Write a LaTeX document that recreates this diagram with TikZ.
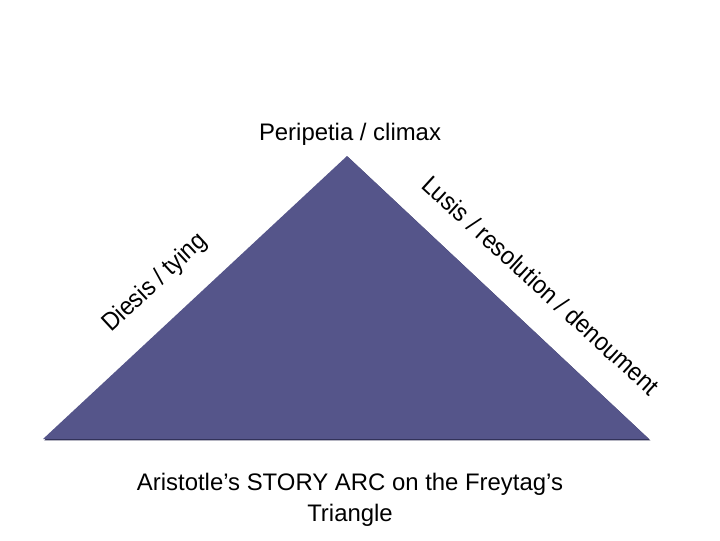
\documentclass[tikz,border=0pt]{standalone}
\usepackage{fontspec}
\setmainfont{Liberation Sans}
\newfontfamily\edgefont[FakeStretch=0.92]{Liberation Sans}
\definecolor{arcfill}{RGB}{85,85,138}
\definecolor{arcshadow}{RGB}{45,45,82}

\begin{document}
\begin{tikzpicture}[
    x=0.025cm, y=-0.025cm,
    title/.style={font=\fontsize{17}{22}\selectfont, align=center},
    sidelabel/.style={font=\edgefont\fontsize{18}{22}\selectfont, inner sep=0pt, anchor=base west}
]
\useasboundingbox (0,0) rectangle (720,540);

% Triangle
\coordinate (apex) at (347,156);
\coordinate (left) at (43,439);
\coordinate (right) at (649,439);
\fill[arcshadow] ([xshift=0.9pt,yshift=-0.9pt]apex) -- ([xshift=0.9pt,yshift=-0.9pt]left)
    -- ([xshift=0.9pt,yshift=-0.9pt]right) -- cycle;
\fill[arcfill] (apex) -- (left) -- (right) -- cycle;

% Labels
\node[title, anchor=base] (climax) at (350,140) {Peripetia / climax};
\node[sidelabel, rotate=42.9] (tying) at (111,333) {Diesis / tying};
\node[sidelabel, rotate=-42.4] (resolution) at (420,187) {Lusis / resolution / denoument};
\node[title] (caption) at (350,500) {Aristotle’s STORY ARC on the Freytag’s\\Triangle};

\end{tikzpicture}
\end{document}
